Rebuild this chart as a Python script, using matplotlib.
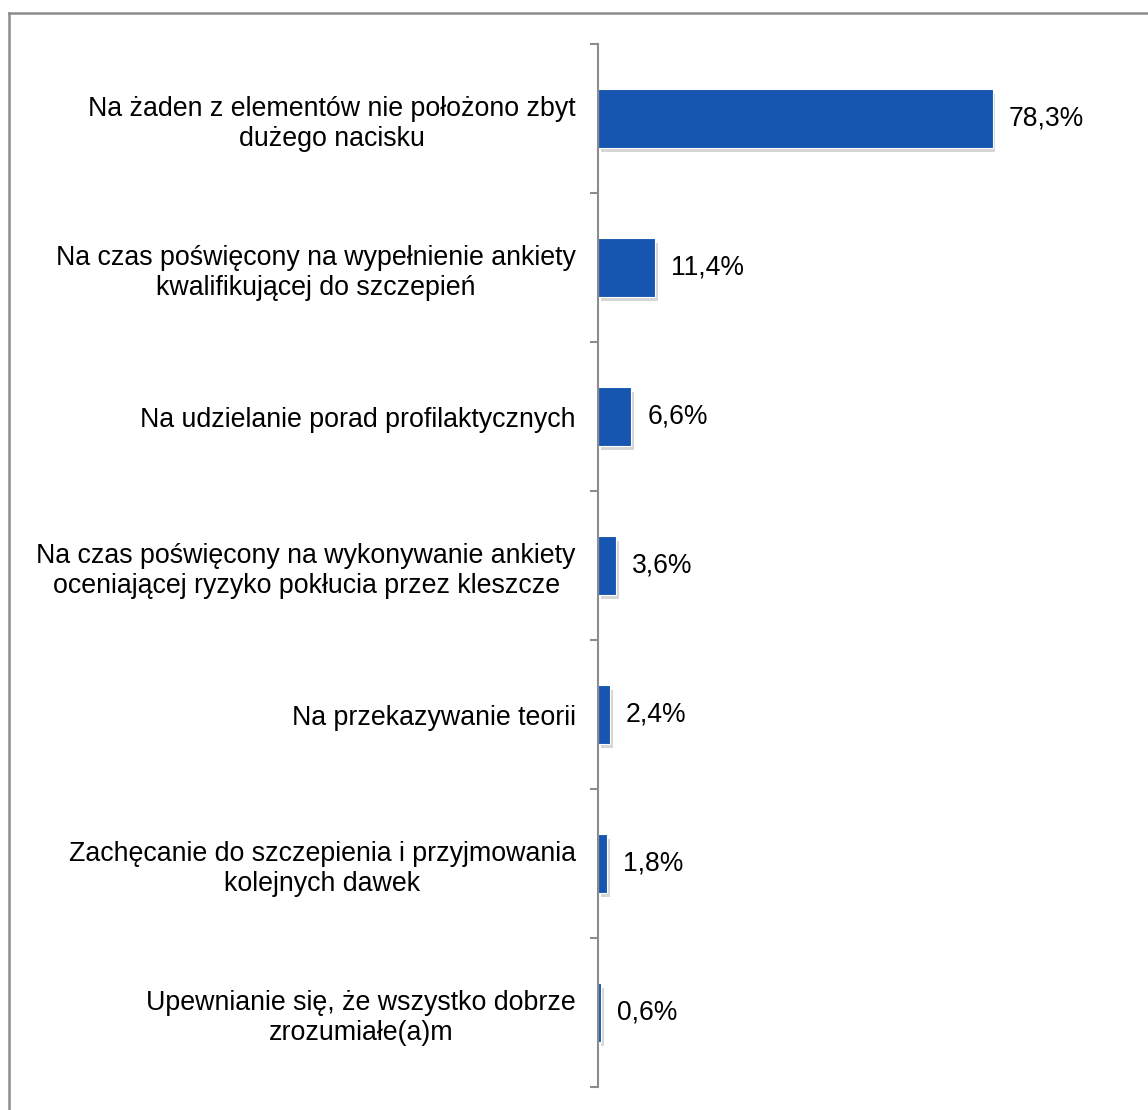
import matplotlib
matplotlib.use("Agg")
import matplotlib.pyplot as plt
from matplotlib.lines import Line2D
from matplotlib import patheffects as pe

plt.rcParams['font.family'] = ['Liberation Sans', 'DejaVu Sans']

categories = [
    "Na żaden z elementów nie położono zbyt\ndużego nacisku",
    "Na czas poświęcony na wypełnienie ankiety\nkwalifikującej do szczepień",
    "Na udzielanie porad profilaktycznych",
    "Na czas poświęcony na wykonywanie ankiety\noceniającej ryzyko pokłucia przez kleszcze",
    "Na przekazywanie teorii",
    "Zachęcanie do szczepienia i przyjmowania\nkolejnych dawek",
    "Upewnianie się, że wszystko dobrze\nzrozumiałe(a)m",
]
values = [78.3, 11.4, 6.6, 3.6, 2.4, 1.8, 0.6]
value_labels = ["78,3%", "11,4%", "6,6%", "3,6%", "2,4%", "1,8%", "0,6%"]

W, H = 1148, 1110
fig = plt.figure(figsize=(W / 100, H / 100), dpi=100)

# outer frame of the chart area (top and left edges are visible)
frame_kw = dict(transform=fig.transFigure, color='#8c8c8c', linewidth=1.8)
fig.add_artist(Line2D([8.5 / W, 1.0], [1 - 12.5 / H, 1 - 12.5 / H], **frame_kw))
fig.add_artist(Line2D([8.5 / W, 8.5 / W], [0, 1 - 12.5 / H], **frame_kw))

ax = fig.add_axes([598 / W, 23 / H, 504 / W, 1043 / H])
ypos = list(range(len(categories)))
bars = ax.barh(ypos, values, height=0.39, color='#1656B0', edgecolor='white', linewidth=0.8)
for b in bars:
    b.set_path_effects([pe.SimplePatchShadow(offset=(2, -3), shadow_rgbFace='#9a9a9a', alpha=0.4),
                        pe.Normal()])

for y, v, lab in zip(ypos, values, value_labels):
    ax.annotate(lab, (v, y), xytext=(16, 0), textcoords='offset pixels',
                ha='left', va='center', fontsize=19.1, color='black')

ax.set_xlim(0, 100)
ax.set_ylim(len(categories) - 0.5, -0.5)
ax.set_yticks(ypos)
ax.set_yticklabels(categories, fontsize=19.3, linespacing=1.23)
ax.set_yticks([i - 0.5 for i in range(len(categories) + 1)], minor=True)
ax.tick_params(axis='y', which='major', length=0, pad=16)
ax.tick_params(axis='y', which='minor', length=6, width=1.5, color='#8c8c8c', direction='out')
for lbl in ax.get_yticklabels():
    lbl.set_ha('right')
    lbl.set_multialignment('center')
ax.set_xticks([])
for s in ['top', 'right', 'bottom']:
    ax.spines[s].set_visible(False)
ax.spines['left'].set_color('#8c8c8c')
ax.spines['left'].set_linewidth(1.5)

fig.savefig('out.png', dpi=100, facecolor='white')
